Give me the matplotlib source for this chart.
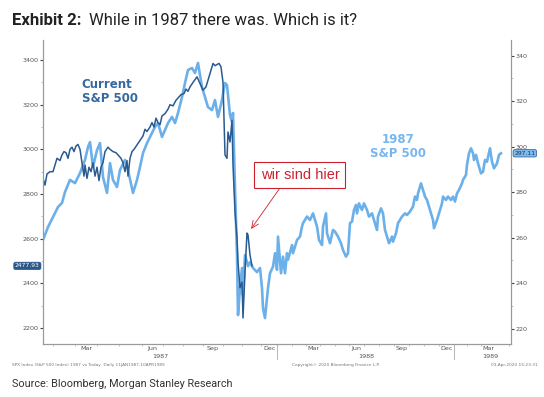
import matplotlib
matplotlib.use('Agg')
import matplotlib.pyplot as plt
import matplotlib.transforms as mtrans
from matplotlib.ticker import MultipleLocator, FixedLocator

# ---------------- data ----------------
# 1987 S&P 500 (right axis): position along the time axis and index level
light_x = [0, 5, 10, 15, 19, 22, 27, 32, 37, 42, 45, 47, 50, 54, 57, 60, 64, 67, 70, 74,
           77, 82, 85, 90, 94, 97, 100, 104, 109, 112, 115, 119, 122, 125, 129, 132, 135,
           139, 142, 145, 149, 152, 155, 159, 162, 165, 169, 172, 175, 179, 182, 184, 187,
           189, 190, 192, 194, 195, 197, 199, 200, 202, 205, 207, 210, 214, 217, 219, 220,
           222, 225, 227, 230, 232, 234, 235, 238, 240, 242, 244, 245, 249, 250, 254, 257,
           259, 260, 264, 267, 270, 274, 276, 279, 280, 283, 284, 287, 290, 292, 295, 298,
           300, 303, 305, 307, 309, 311, 313, 314, 316, 319, 321, 324, 326, 329, 331, 334,
           335, 338, 340, 342, 344, 346, 349, 350, 353, 355, 359, 362, 364, 367, 370, 372,
           374, 375, 378, 380, 382, 384, 387, 390, 391, 394, 396, 399, 400, 403, 405, 408,
           410, 412, 414, 416, 419, 420, 423, 424, 426, 428, 430, 431, 433, 435, 438, 440,
           442, 444, 447, 449, 451, 454, 456, 458]
light_v = [259.0, 264.7, 269.1, 273.5, 275.3, 280.1, 285.4, 284.0, 288.4, 294.2, 299.9,
           302.0, 291.1, 298.5, 301.6, 286.7, 279.7, 292.8, 285.4, 282.3, 289.8, 294.2,
           289.8, 279.7, 285.4, 291.1, 297.2, 301.6, 306.0, 308.7, 310.4, 304.3, 307.3,
           310.4, 313.1, 310.4, 314.8, 321.8, 328.0, 333.7, 334.6, 332.4, 336.8, 326.2,
           321.8, 317.4, 316.1, 320.5, 313.1, 320.5, 328.0, 327.1, 313.9, 310.9, 314.8,
           281.8, 252.4, 226.0, 237.9, 246.7, 234.8, 252.4, 247.5, 249.3, 246.7, 244.9,
           246.7, 237.9, 229.1, 224.7, 237.9, 244.4, 247.3, 253.2, 245.9, 260.5, 244.4,
           251.7, 244.4, 253.2, 250.3, 256.8, 253.2, 259.0, 260.5, 264.9, 266.4, 269.3,
           267.8, 270.7, 264.9, 259.0, 256.8, 264.9, 270.7, 262.0, 257.6, 263.4, 262.7,
           260.5, 257.6, 254.6, 251.7, 253.2, 266.4, 267.1, 272.2, 274.4, 270.7, 275.1,
           272.2, 275.1, 272.2, 269.3, 270.7, 267.8, 263.4, 269.3, 272.9, 270.7, 263.4,
           260.5, 257.6, 260.5, 258.3, 262.0, 266.4, 269.3, 270.7, 270.0, 271.5, 273.7,
           278.1, 276.6, 279.5, 283.9, 281.0, 278.1, 276.6, 272.2, 267.8, 264.2, 267.8,
           270.7, 275.1, 278.1, 276.6, 278.1, 276.6, 278.1, 275.9, 279.5, 281.0, 283.9,
           285.4, 287.6, 292.0, 297.1, 299.3, 297.1, 294.2, 296.4, 292.7, 288.3, 289.0,
           294.2, 293.4, 299.3, 293.4, 290.5, 292.7, 296.4, 297.11]

# Current S&P 500 (left axis): position along the time axis and index level
dark_x = [0, 2, 4, 7, 10, 12, 14, 17, 19, 21, 23, 25, 27, 29, 31, 33, 35, 37, 39, 41,
          42, 44, 46, 48, 50, 52, 54, 56, 58, 60, 62, 65, 67, 70, 73, 76, 78, 80, 82, 84,
          85, 87, 89, 91, 94, 97, 100, 102, 104, 107, 109, 111, 113, 115, 117, 119, 122,
          125, 127, 130, 133, 135, 138, 141, 143, 145, 147, 150, 154, 157, 160, 163, 167,
          170, 172, 174, 176, 178, 180, 182, 184, 185, 187, 189, 190, 192, 194, 195, 197,
          199, 200, 202, 204, 205, 207, 209]
dark_v = [2870, 2840, 2890, 2900, 2900, 2930, 2960, 2950, 2975, 2990, 2985, 2960, 3000,
          3010, 2990, 3015, 3022, 3000, 2940, 2880, 2930, 2870, 2920, 2900, 2940, 2880,
          2920, 2860, 2920, 2940, 2990, 3010, 3000, 2990, 2985, 2970, 2960, 2940, 2900,
          2950, 2880, 2960, 2990, 3000, 3020, 3040, 3060, 3090, 3080, 3100, 3120, 3100,
          3140, 3120, 3110, 3150, 3160, 3180, 3200, 3195, 3220, 3230, 3245, 3250, 3270,
          3260, 3280, 3300, 3325, 3295, 3265, 3280, 3340, 3385, 3375, 3380, 3385, 3370,
          3300, 2975, 2960, 3078, 3033, 3130, 2930, 2720, 2603, 2495, 2380, 2405, 2245,
          2450, 2625, 2617, 2527, 2477.93]

dark_last = 2477.93
light_last = 297.11

month_labels = ['Mar', 'Jun', 'Sep', 'Dec', 'Mar', 'Jun', 'Sep', 'Dec', 'Mar']
year_labels = ['1987', '1988', '1989']

title_bold = 'Exhibit 2:'
title_rest = 'While in 1987 there was. Which is it?'
source_text = 'Source: Bloomberg, Morgan Stanley Research'
footer_left = 'SPX Index (S&P 500 Index) 1987 vs Today  Daily 11JAN1987-10APR1989'
footer_mid = 'Copyright\u00a9 2020 Bloomberg Finance L.P.'
footer_right = '03-Apr-2020 15:23:31'

# ---------------- layout ----------------
month_pos = [43, 109.7, 170, 227, 270, 313, 358.7, 403.7, 445]
year_pos = [117, 323.7, 447]
year_breaks = [234, 411]

DARK = '#2a5b90'
LIGHT = '#6cb0ea'
RED = '#d0202e'
SPINE_C = '#9a9a9a'
TICK_C = '#555555'

fig = plt.figure(figsize=(5.44, 3.97), dpi=100)
fig.patch.set_facecolor('white')
ax = fig.add_axes([43 / 544, 1 - 344 / 397, 468 / 544, 304 / 397])
ax2 = ax.twinx()
ax.set_zorder(ax2.get_zorder() + 1)
ax.patch.set_visible(False)

ax2.plot(light_x, light_v, color=LIGHT, lw=1.9, solid_joinstyle='round')
ax.plot(dark_x, dark_v, color=DARK, lw=1.1, solid_joinstyle='round')

ax.set_xlim(0, 468)
ax.set_ylim(2128, 3490)
ax2.set_ylim(213.3, 346.9)

for a in (ax, ax2):
    a.spines['top'].set_visible(False)
    for s in ('left', 'right', 'bottom'):
        a.spines[s].set_color(SPINE_C)
        a.spines[s].set_linewidth(0.8)

ax.yaxis.set_major_locator(MultipleLocator(200))
ax.yaxis.set_minor_locator(MultipleLocator(100))
ax2.yaxis.set_major_locator(MultipleLocator(20))
ax2.yaxis.set_minor_locator(MultipleLocator(10))
for a in (ax, ax2):
    a.tick_params(axis='y', which='major', direction='out', length=2.2, width=0.8,
                  color='#444444', labelsize=4.6, labelcolor=TICK_C, pad=1)
    a.tick_params(axis='y', which='minor', direction='out', length=1.5, width=0.5,
                  color='#aaaaaa')

# x axis: quarter month labels and monthly ticks
ax.xaxis.set_major_locator(FixedLocator(month_pos))
ax.set_xticklabels(month_labels)
ax.tick_params(axis='x', which='major', length=0, labelsize=4.6, labelcolor=TICK_C, pad=1.5)
mb = []
for a_, b_ in zip(month_pos[:-1], month_pos[1:]):
    st = (b_ - a_) / 3
    mb += [a_ + st * (k + 0.5) for k in range(3)]
st0 = (month_pos[1] - month_pos[0]) / 3
mb = [month_pos[0] - st0 * 1.5, month_pos[0] - st0 * 0.5] + mb
stl = (month_pos[-1] - month_pos[-2]) / 3
mb += [month_pos[-1] + stl * 1.5]
ax.xaxis.set_minor_locator(FixedLocator([m for m in mb if 0 < m < 468]))
ax.tick_params(axis='x', which='minor', direction='out', length=1.5, width=0.5, color='#aaaaaa')
ax2.tick_params(axis='x', length=0)

bt = mtrans.blended_transform_factory(ax.transData, ax.transAxes)
for lab, p in zip(year_labels, year_pos):
    ax.text(p, -0.040, lab, transform=bt, ha='center', va='center', fontsize=4.6,
            color=TICK_C)
for p in year_breaks:
    ax.plot([p, p], [-0.004, -0.048], transform=bt, color='#aaaaaa', lw=0.6, clip_on=False)

# series labels
ax.text(0.083, 0.876, 'Current\nS&P 500', transform=ax.transAxes, ha='left', va='top',
        fontsize=8.5, fontweight='bold', color='#3568a0', linespacing=1.1,
        family='DejaVu Sans')
ax.text(0.758, 0.694, '1987\nS&P 500', transform=ax.transAxes, ha='center', va='top',
        fontsize=8.5, fontweight='bold', color='#78b6ee', linespacing=1.1,
        multialignment='center', family='DejaVu Sans')

# last value tags
tl = mtrans.blended_transform_factory(ax.transAxes, ax.transData)
ax.text(-0.007, dark_last, f'{dark_last:.2f}', transform=tl, ha='right', va='center',
        fontsize=4.3, color='white',
        bbox=dict(boxstyle='round,pad=0.2,rounding_size=0.3', fc='#2b5789', ec='#2b5789', lw=0.5))
tr = mtrans.blended_transform_factory(ax2.transAxes, ax2.transData)
ax2.text(1.007, light_last, f'{light_last:.2f}', transform=tr, ha='left', va='center',
         fontsize=4.3, color='#16355c',
         bbox=dict(boxstyle='round,pad=0.2,rounding_size=0.3', fc='#7cb9ec', ec='#2b5789', lw=0.5))

# annotation
ax.annotate('wir sind hier', xy=(208, 2643), xycoords='data',
            xytext=(0.549, 0.556), textcoords='axes fraction',
            ha='center', va='center', fontsize=10.5, color=RED, family='Liberation Sans',
            bbox=dict(boxstyle='square,pad=0.42', fc='white', ec=RED, lw=0.8),
            arrowprops=dict(arrowstyle='->,head_length=0.5,head_width=0.22', color=RED,
                            lw=0.6, relpos=(0.3, 0.0), shrinkA=0, shrinkB=0))

# footers
fig.text(12 / 544, 1 - 365 / 397, footer_left, fontsize=3.1, color='#777777',
         ha='left', va='center')
fig.text(336 / 544, 1 - 365 / 397, footer_mid, fontsize=3.1, color='#777777',
         ha='center', va='center')
fig.text(538 / 544, 1 - 365 / 397, footer_right, fontsize=3.1, color='#777777',
         ha='right', va='center')

# title
t1 = fig.text(12 / 544, 1 - 25 / 397, title_bold, fontsize=12, fontweight='bold',
              family='Roboto', color='#222222', ha='left', va='baseline')
fig.canvas.draw()
bb = t1.get_window_extent(renderer=fig.canvas.get_renderer())
x2 = (bb.x1 + 8) / fig.bbox.width
fig.text(x2, 1 - 25 / 397, title_rest, fontsize=12, family='Roboto', color='#222222',
         ha='left', va='baseline')

fig.text(12 / 544, 1 - 387 / 397, source_text, fontsize=7.8, family='Roboto',
         color='#333333', ha='left', va='baseline')

fig.savefig('out.png', dpi=100, facecolor='white')
